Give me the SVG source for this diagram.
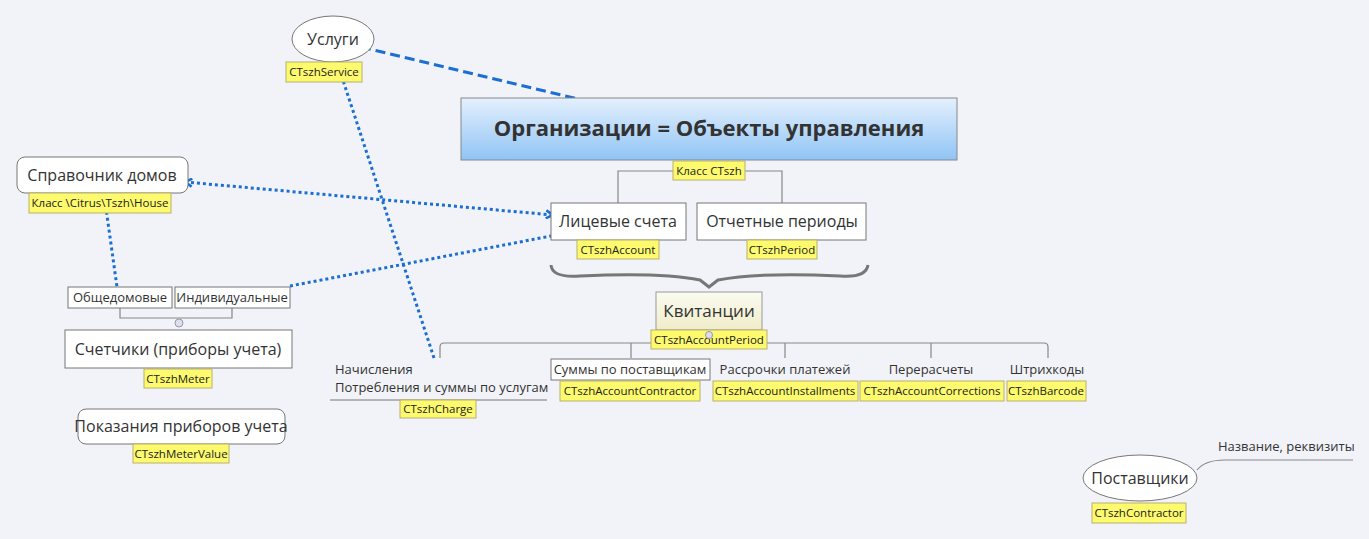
<svg xmlns="http://www.w3.org/2000/svg" width="1369" height="539" viewBox="0 0 1369 539">
<style>
text{font-family:"Open Sans","Noto Sans",sans-serif;fill:#333}
.n{fill:#fff;stroke:#777;stroke-width:1}
.lb{fill:#fdfa6e;stroke:#b8b070;stroke-width:1}
.lt{font-size:11.5px;fill:#222}
.t{font-size:16px}
.s{font-size:13px}
.br{fill:none;stroke:#888;stroke-width:1.2}
.c{fill:none;stroke:#1b6fd3;stroke-width:3}
.dot{stroke-dasharray:3 3}
</style>
<defs>
<linearGradient id="gb" x1="0" y1="0" x2="0" y2="1"><stop offset="0" stop-color="#e4f0fd"/><stop offset="1" stop-color="#90c4f5"/></linearGradient>
<linearGradient id="gy" x1="0" y1="0" x2="0" y2="1"><stop offset="0" stop-color="#fbfbf1"/><stop offset="1" stop-color="#efedc8"/></linearGradient>
<marker id="ar" markerWidth="10" markerHeight="10" refX="8" refY="5" orient="auto" markerUnits="userSpaceOnUse"><path d="M1,1 L8,5 L1,9" fill="none" stroke="#1b6fd3" stroke-width="2.5"/></marker>
<marker id="as" markerWidth="10" markerHeight="10" refX="2" refY="5" orient="auto" markerUnits="userSpaceOnUse"><path d="M9,1 L2,5 L9,9" fill="none" stroke="#1b6fd3" stroke-width="2.5"/></marker>
</defs>
<rect width="1369" height="539" fill="#f1f3f8"/>
<g id="branches">
<path class="br" d="M618,204 V171 H782 V204"/>
<path class="br" d="M440,358 V347 Q440,343 444,343 H1044 Q1048,343 1048,347 V358 M631,358 V343 M785,358 V343 M931,358 V343"/>
<path d="M551,265 Q552,278 580,276 Q660,272 700,280 L709,287 L718,280 Q760,272 840,276 Q866,278 868,265" fill="none" stroke="#777" stroke-width="3"/>
<path class="br" d="M120,308 V318 H232 V308"/>
<circle cx="179" cy="323" r="4" fill="#dde" stroke="#99a"/>
<path class="br" d="M1197,470 Q1205,460 1225,460 H1353"/>
<line x1="330" y1="400" x2="547" y2="400" stroke="#777" stroke-width="1"/>
</g>
<g id="connectors">
<path class="c" stroke-dasharray="10 5" d="M361,47 L578,99"/>
<path class="c dot" d="M434,358 L337,62" marker-end="url(#ar)"/>
<path class="c dot" d="M185,182 L553,215" marker-start="url(#as)" marker-end="url(#ar)"/>
<path class="c dot" d="M290,286 L551,236"/>
<path class="c dot" d="M104,194 L117,287"/>
</g>
<g id="uslugi"><ellipse class="n" cx="333" cy="39" rx="41" ry="23"/><text class="t" x="333" y="45" text-anchor="middle">Услуги</text>
<rect class="lb" x="286" y="62" width="76" height="20"/><text class="lt" x="324" y="76" text-anchor="middle">CTszhService</text></g>
<g id="org"><rect x="461" y="98" width="496" height="62" fill="url(#gb)" stroke="#888"/><text x="709" y="136" text-anchor="middle" font-size="22" font-weight="bold" fill="#444">Организации = Объекты управления</text>
<rect class="lb" x="673" y="161" width="72" height="19"/><text class="lt" x="709" y="175" text-anchor="middle">Класс CTszh</text></g>
<g id="acc"><rect class="n" x="551" y="203" width="135" height="37"/><text class="t" x="618" y="227" text-anchor="middle">Лицевые счета</text>
<rect class="lb" x="577" y="240" width="82" height="19"/><text class="lt" x="618" y="254" text-anchor="middle">CTszhAccount</text></g>
<g id="period"><rect class="n" x="697" y="203" width="169" height="37"/><text class="t" x="782" y="227" text-anchor="middle">Отчетные периоды</text>
<rect class="lb" x="747" y="240" width="70" height="19"/><text class="lt" x="782" y="254" text-anchor="middle">CTszhPeriod</text></g>
<g id="kvit"><rect x="656" y="292" width="106" height="38" fill="url(#gy)" stroke="#999"/><text x="709" y="317" text-anchor="middle" font-size="17">Квитанции</text>
<rect class="lb" x="651" y="330" width="116" height="19"/><text class="lt" x="709" y="344" text-anchor="middle">CTszhAccountPeriod</text>
<circle cx="709" cy="335" r="3.5" fill="#dde" stroke="#99a"/></g>
<g id="charge"><text class="s" x="335" y="374">Начисления</text><text class="s" x="335" y="392">Потребления и суммы по услугам</text>
<rect class="lb" x="400" y="400" width="76" height="18"/><text class="lt" x="438" y="413" text-anchor="middle">CTszhCharge</text></g>
<g id="contr"><rect class="n" x="551" y="359" width="159" height="21"/><text class="s" x="630" y="374" text-anchor="middle">Суммы по поставщикам</text>
<rect class="lb" x="560" y="381" width="140" height="20"/><text class="lt" x="630" y="395" text-anchor="middle">CTszhAccountContractor</text></g>
<g id="inst"><text class="s" x="785" y="374" text-anchor="middle">Рассрочки платежей</text>
<rect class="lb" x="713" y="381" width="145" height="20"/><text class="lt" x="785" y="395" text-anchor="middle">CTszhAccountInstallments</text></g>
<g id="corr"><text class="s" x="931" y="374" text-anchor="middle">Перерасчеты</text>
<rect class="lb" x="860" y="381" width="144" height="20"/><text class="lt" x="932" y="395" text-anchor="middle">CTszhAccountCorrections</text></g>
<g id="bar"><text class="s" x="1047" y="374" text-anchor="middle">Штрихкоды</text>
<rect class="lb" x="1007" y="381" width="79" height="20"/><text class="lt" x="1046" y="395" text-anchor="middle">CTszhBarcode</text></g>
<g id="house"><rect class="n" x="17" y="157" width="171" height="36" rx="8"/><text class="t" x="102" y="181" text-anchor="middle">Справочник домов</text>
<rect class="lb" x="29" y="193" width="142" height="20"/><text class="lt" x="100" y="207" text-anchor="middle">Класс \Citrus\Tszh\House</text></g>
<g id="obsh"><rect class="n" x="68" y="287" width="104" height="21"/><text class="s" x="120" y="302" text-anchor="middle">Общедомовые</text></g>
<g id="ind"><rect class="n" x="175" y="287" width="115" height="21"/><text class="s" x="232" y="302" text-anchor="middle">Индивидуальные</text></g>
<g id="meter"><rect class="n" x="65" y="330" width="227" height="38"/><text class="t" x="178" y="355" text-anchor="middle">Счетчики (приборы учета)</text>
<rect class="lb" x="144" y="369" width="68" height="19"/><text class="lt" x="178" y="383" text-anchor="middle">CTszhMeter</text></g>
<g id="mval"><rect class="n" x="78" y="409" width="207" height="35" rx="8"/><text class="t" x="181" y="432" text-anchor="middle">Показания приборов учета</text>
<rect class="lb" x="133" y="444" width="96" height="19"/><text class="lt" x="181" y="458" text-anchor="middle">CTszhMeterValue</text></g>
<g id="post"><ellipse class="n" cx="1140" cy="478" rx="57" ry="23"/><text class="t" x="1140" y="484" text-anchor="middle">Поставщики</text>
<rect class="lb" x="1092" y="503" width="94" height="20"/><text class="lt" x="1139" y="517" text-anchor="middle">CTszhContractor</text>
<text class="s" x="1218" y="451">Название, реквизиты</text></g>
</svg>
